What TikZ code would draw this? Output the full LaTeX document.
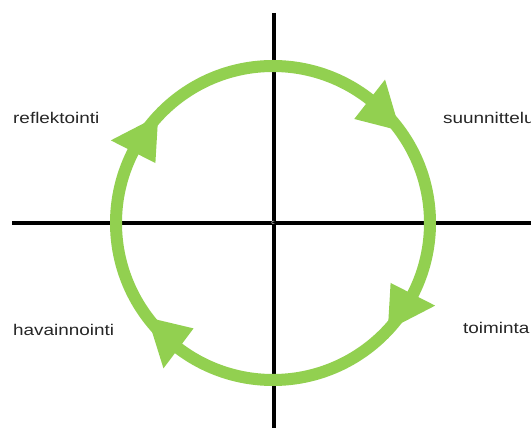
\documentclass[tikz,border=0pt]{standalone}
\usepackage{fontspec}
\newfontfamily\labfont[FakeStretch=1.22]{Liberation Sans}
\definecolor{cyclegreen}{HTML}{92D050}
\definecolor{labgray}{HTML}{262626}
\tikzset{
  axis/.style={line width=4pt, black},
  ring/.style={line width=12pt, cyclegreen},
  headfill/.style={fill=cyclegreen},
  lab/.style={anchor=west, inner sep=0pt, text=labgray, font=\labfont\fontsize{15.5}{18}\selectfont}
}
\begin{document}
\begin{tikzpicture}[x=1pt,y=1pt]
\useasboundingbox (0,0) rectangle (531,428);
\clip (0,0) rectangle (531,428);
\fill[white] (0,0) rectangle (531,428);
\coordinate (c) at (273,205);
\coordinate (top) at (273.5,415);
\coordinate (bot) at (273.5,0);
\coordinate (lft) at (12,205);
\coordinate (rgt) at (531,205);
\draw[axis] (top) -- (bot);
\draw[axis] (lft) -- (rgt);
\node[text=white, inner sep=0pt, font=\sffamily\fontsize{7}{7}\selectfont] (cc) at (c) {c};
\draw[ring] (c) circle[radius=157];
\foreach \t in {52,-27,233,153}{
  \fill[headfill, shift={(c)}] (\t:182) -- (\t:132) -- (\t-16:157) -- cycle;
}
\node[lab] (refl) at (13,310) {reflektointi};
\node[lab] (suun) at (443,310) {suunnittelu};
\node[lab] (hav) at (13,98) {havainnointi};
\node[lab] (toim) at (463,100) {toiminta};
\end{tikzpicture}
\end{document}
